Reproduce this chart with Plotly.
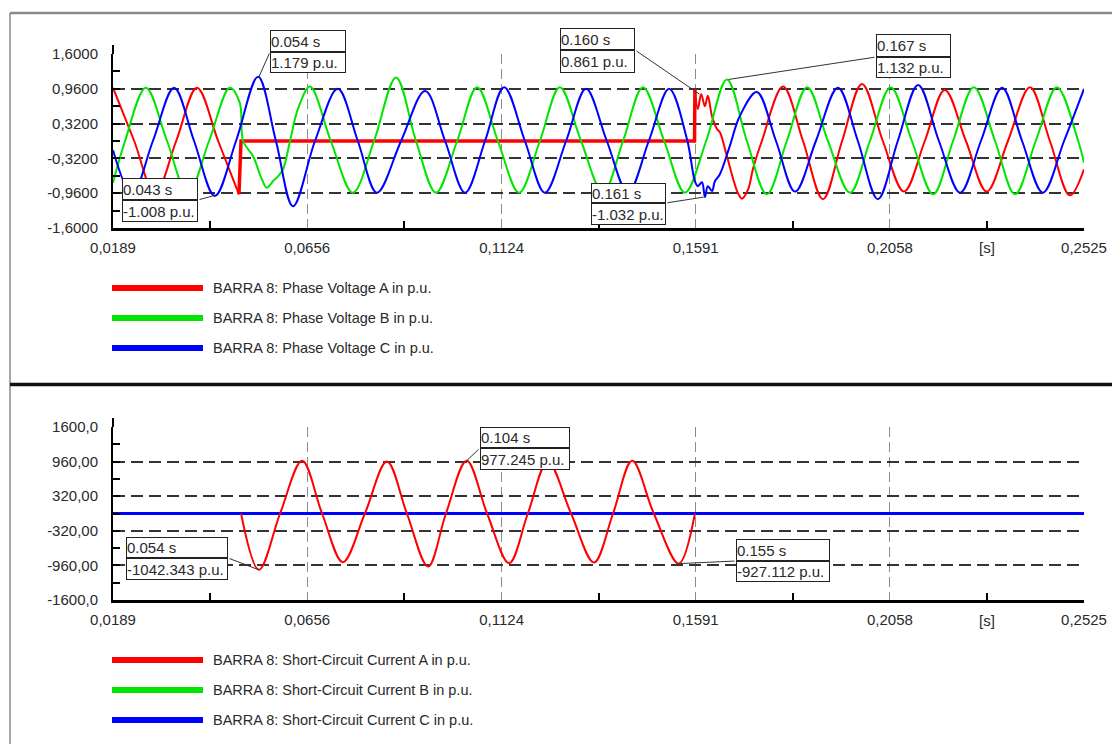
import plotly.graph_objects as go

# ---------------- data ----------------
T0, T1 = 0.0189, 0.2525
x_tickvals = [0.0189, 0.0656, 0.1124, 0.1591, 0.2058, 0.2525]
x_ticktext = ["0,0189", "0,0656", "0,1124", "0,1591", "0,2058", "0,2525"]
x_minor = [0.04225, 0.089, 0.13575, 0.1825, 0.22915]
x_unit_pos = 0.22915
x_unit_text = "[s]"

v_range = [-1.6, 1.6]
v_tickvals = [-1.6, -0.96, -0.32, 0.32, 0.96, 1.6]
v_ticktext = ["-1,6000", "-0,9600", "-0,3200", "0,3200", "0,9600", "1,6000"]
v_minor = [-1.28, -0.64, 0.0, 0.64, 1.28]

i_range = [-1600, 1600]
i_tickvals = [-1600, -960, -320, 320, 960, 1600]
i_ticktext = ["-1600,0", "-960,00", "-320,00", "320,00", "960,00", "1600,0"]
i_minor = [-1280, -640, 0, 640, 1280]

# Phase voltage A (before fault, during fault, after clearing)
va_pre_t = [0.0189, 0.0240, 0.0290, 0.0341, 0.0391, 0.0442, 0.0492]
va_pre_v = [0.98, 0.0, -0.97, 0.0, 0.98, 0.0, -0.98]
va_fault_t = [0.0492, 0.0497, 0.1588, 0.1589]
va_fault_v = [-0.98, 0.0, 0.0, 0.96]
va_post_t = [0.1589, 0.1596, 0.1604, 0.1613, 0.1620, 0.1630, 0.1642, 0.1649, 0.1666, 0.1681,
             0.1692, 0.1702, 0.1717, 0.1729, 0.1750, 0.1801, 0.1849, 0.1897, 0.1943, 0.1991,
             0.2041, 0.2092, 0.2142, 0.2190, 0.2241, 0.2291, 0.2342, 0.2395, 0.2443, 0.2491, 0.2525]
va_post_v = [0.96, 0.59, 0.86, 0.64, 0.83, 0.46, 0.22, 0.16, -0.28, -0.70,
             -0.95, -1.06, -0.89, -0.50, 0.0, 1.0, 0.0, -1.07, 0.0, 1.05,
             0.0, -0.93, 0.0, 0.94, 0.0, -0.93, 0.0, 0.99, 0.0, -1.0, -0.52]

# Phase voltage B
vb_t = [0.0189, 0.0218, 0.0268, 0.0319, 0.0369, 0.0420, 0.0470, 0.0494, 0.0502, 0.0526,
        0.0547, 0.0559, 0.0574, 0.0586, 0.0598, 0.0615, 0.0634, 0.0663, 0.0713, 0.0766,
        0.0817, 0.0870, 0.0918, 0.0966, 0.1017, 0.1065, 0.1115, 0.1166, 0.1216, 0.1264,
        0.1315, 0.1368, 0.1416, 0.1464, 0.1515, 0.1565, 0.1616, 0.1666, 0.1714, 0.1762,
        0.1810, 0.1859, 0.1909, 0.1962, 0.2010, 0.2060, 0.2111, 0.2162, 0.2210, 0.2260,
        0.2311, 0.2359, 0.2409, 0.2460, 0.2511, 0.2525]
vb_v = [-0.77, 0.0, 0.98, 0.0, -0.97, 0.0, 0.98, 0.70, 0.0, -0.28,
        -0.70, -0.86, -0.74, -0.65, -0.52, 0.0, 0.59, 1.0, 0.0, -0.95,
        0.0, 1.17, 0.0, -0.95, 0.0, 0.99, 0.0, -0.95, 0.0, 0.99,
        0.0, -0.95, 0.0, 0.99, 0.0, -0.95, 0.0, 1.13, 0.0, -0.98,
        0.0, 0.99, 0.0, -0.95, 0.0, 0.99, 0.0, -0.98, 0.0, 0.99,
        0.0, -0.98, 0.0, 0.99, 0.0, -0.40]

# Phase voltage C
vc_t = [0.0189, 0.0235, 0.0285, 0.0336, 0.0384, 0.0434, 0.0485, 0.0538, 0.0581, 0.0622,
        0.0675, 0.0730, 0.0778, 0.0824, 0.0882, 0.0940, 0.0988, 0.1036, 0.1084, 0.1130,
        0.1180, 0.1228, 0.1279, 0.1327, 0.1377, 0.1428, 0.1478, 0.1527, 0.1570, 0.1589,
        0.1596, 0.1606, 0.1613, 0.1620, 0.1630, 0.1637, 0.1649, 0.1673, 0.1697, 0.1738,
        0.1784, 0.1830, 0.1880, 0.1933, 0.1981, 0.2029, 0.2077, 0.2126, 0.2176, 0.2227,
        0.2277, 0.2328, 0.2376, 0.2426, 0.2477, 0.2525]
vc_v = [-0.17, -0.97, 0.0, 0.98, 0.0, -1.01, 0.0, 1.18, 0.0, -1.2,
        0.0, 0.96, 0.0, -0.95, 0.0, 0.92, 0.0, -0.95, 0.0, 0.99,
        0.0, -0.95, 0.0, 0.96, 0.0, -0.95, 0.0, 0.96, 0.03, -0.74,
        -0.83, -0.76, -1.03, -0.83, -0.92, -0.74, -0.61, -0.09, 0.46, 0.90,
        0.0, -0.93, 0.0, 0.98, 0.0, -1.07, 0.0, 1.03, 0.0, -0.95,
        0.0, 0.98, 0.0, -0.95, 0.0, 0.96]

# Short-circuit currents
ia_t = [0.0497, 0.0540, 0.0591, 0.0644, 0.0692, 0.0742, 0.0795, 0.0848, 0.0896, 0.0947,
        0.0990, 0.1040, 0.1089, 0.1142, 0.1187, 0.1235, 0.1291, 0.1346, 0.1392, 0.1438,
        0.1490, 0.1550, 0.1589]
ia_v = [0, -1042, 0, 975, 0, -900, 0, 961, 0, -980,
        0, 977, 0, -918, 0, 955, 0, -905, 0, 974,
        0, -927, 0]
ib_t = [0.0189, 0.2525]
ib_v = [0, 0]
ic_t = [0.0189, 0.2525]
ic_v = [0, 0]

volt_legend = ["BARRA 8: Phase Voltage A in p.u.",
               "BARRA 8: Phase Voltage B in p.u.",
               "BARRA 8: Phase Voltage C in p.u."]
curr_legend = ["BARRA 8: Short-Circuit Current A in p.u.",
               "BARRA 8: Short-Circuit Current B in p.u.",
               "BARRA 8: Short-Circuit Current C in p.u."]

# callouts: (time, value, panel, time label, value label)
callout_t = [0.054, 0.043, 0.160, 0.161, 0.167, 0.054, 0.104, 0.155]
callout_v = [1.179, -1.008, 0.861, -1.032, 1.132, -1042.343, 977.245, -927.112]
callout_panel = ["v", "v", "v", "v", "v", "i", "i", "i"]
callout_tlabel = ["0.054 s", "0.043 s", "0.160 s", "0.161 s", "0.167 s", "0.054 s", "0.104 s", "0.155 s"]
callout_vlabel = ["1.179 p.u.", "-1.008 p.u.", "0.861 p.u.", "-1.032 p.u.", "1.132 p.u.",
                  "-1042.343 p.u.", "977.245 p.u.", "-927.112 p.u."]

# ---------------- layout geometry (pixels) ----------------
W, H = 1112, 744
def px(x):
    return x / W
def py(y):
    return 1 - y / H

PLOT_X0, PLOT_X1 = 113, 1084
TOP_Y0, TOP_Y1 = 54, 228
BOT_Y0, BOT_Y1 = 427, 600

RED, GREEN, BLUE = "#ff0000", "#00e600", "#0000ff"
FONT = "Liberation Sans, Arial, sans-serif"
TXT = "#2a2a2a"
TICK_SIZE = 15
LEG_SIZE = 14.5
BOX_SIZE = 15

fig = go.Figure()

def line(t, v, color, width, ax, shape="spline"):
    fig.add_trace(go.Scatter(x=t, y=v, mode="lines", xaxis=ax[0], yaxis=ax[1],
                             line=dict(color=color, width=width, shape=shape, smoothing=1.0),
                             showlegend=False, hoverinfo="skip"))

# voltages
line(va_pre_t, va_pre_v, RED, 2, ("x", "y"))
line(va_fault_t, va_fault_v, RED, 3.5, ("x", "y"), shape="linear")
line(va_post_t, va_post_v, RED, 2, ("x", "y"))
line(vb_t, vb_v, GREEN, 2, ("x", "y"))
line(vc_t, vc_v, BLUE, 2, ("x", "y"))
# currents
line(ib_t, ib_v, GREEN, 3, ("x2", "y2"), shape="linear")
line(ic_t, ic_v, BLUE, 3, ("x2", "y2"), shape="linear")
line(ia_t, ia_v, RED, 2, ("x2", "y2"))

xdom = [px(PLOT_X0), px(PLOT_X1)]

def xaxis(anchor):
    return dict(domain=xdom, range=[T0, T1], anchor=anchor, tickmode="array",
                tickvals=x_tickvals, ticktext=x_ticktext, ticks="", showgrid=True,
                gridcolor="#8c8c8c", gridwidth=1.2, griddash="10px,5px",
                showline=True, linecolor="black", linewidth=2.5, zeroline=False,
                automargin=False, ticklabelstandoff=4,
                tickfont=dict(family=FONT, size=TICK_SIZE, color=TXT),
                minor=dict(tickmode="array", tickvals=x_minor, ticks="inside", ticklen=7,
                           tickcolor="black", tickwidth=1.5, showgrid=False),
                fixedrange=True)

def yaxis(domain, rng, tv, tt, minor, anchor):
    return dict(domain=domain, range=rng, anchor=anchor, tickmode="array",
                tickvals=tv, ticktext=tt, ticks="inside", ticklen=7, tickcolor="black",
                tickwidth=1.5, showgrid=True, gridcolor="#333333", gridwidth=1.5,
                griddash="12px,6px", showline=True, linecolor="black", linewidth=2,
                zeroline=False, automargin=False, ticklabelstandoff=10,
                tickfont=dict(family=FONT, size=TICK_SIZE, color=TXT),
                minor=dict(tickmode="array", tickvals=minor, ticks="inside", ticklen=7,
                           tickcolor="black", tickwidth=1.5, showgrid=False),
                fixedrange=True)

fig.update_layout(
    width=W, height=H, autosize=False,
    margin=dict(l=0, r=0, t=0, b=0, pad=0, autoexpand=False),
    paper_bgcolor="white", plot_bgcolor="white",
    showlegend=False,
    font=dict(family=FONT, size=TICK_SIZE, color=TXT),
    xaxis=xaxis("y"),
    yaxis=yaxis([py(TOP_Y1), py(TOP_Y0)], v_range, v_tickvals, v_ticktext, v_minor, "x"),
    xaxis2=xaxis("y2"),
    yaxis2=yaxis([py(BOT_Y1), py(BOT_Y0)], i_range, i_tickvals, i_ticktext, i_minor, "x2"),
)

shapes = []
annotations = []

# outer frame
shapes.append(dict(type="line", xref="paper", yref="paper", x0=px(10), x1=1, y0=py(13), y1=py(13),
                   line=dict(color="#8a8a8a", width=2.5)))
shapes.append(dict(type="line", xref="paper", yref="paper", x0=px(10), x1=px(10), y0=py(13), y1=0,
                   line=dict(color="#8a8a8a", width=1.5)))
shapes.append(dict(type="line", xref="paper", yref="paper", x0=px(10), x1=1, y0=py(384.5), y1=py(384.5),
                   line=dict(color="#111111", width=3.5)))
# axis-line extensions above the top of each y range
for ytop in (TOP_Y0, BOT_Y0):
    shapes.append(dict(type="line", xref="paper", yref="paper", x0=px(PLOT_X0), x1=px(PLOT_X0),
                       y0=py(ytop), y1=py(ytop - 9), line=dict(color="black", width=2)))

# unit label "[s]"
for ref, ybase in (("x", TOP_Y1), ("x2", BOT_Y1)):
    annotations.append(dict(x=x_unit_pos, y=py(ybase + 20), xref=ref, yref="paper", text=x_unit_text,
                            showarrow=False, xanchor="center", yanchor="middle",
                            font=dict(family=FONT, size=TICK_SIZE, color=TXT)))

# legends
def legend(labels, colors, ys):
    for lab, col, yy in zip(labels, colors, ys):
        shapes.append(dict(type="line", xref="paper", yref="paper", x0=px(112), x1=px(203),
                           y0=py(yy), y1=py(yy), line=dict(color=col, width=6)))
        annotations.append(dict(x=px(211), y=py(yy), xref="paper", yref="paper", text=lab,
                                showarrow=False, xanchor="left", yanchor="middle",
                                font=dict(family=FONT, size=LEG_SIZE, color=TXT)))

legend(volt_legend, [RED, GREEN, BLUE], [288, 318, 348])
legend(curr_legend, [RED, GREEN, BLUE], [660, 690, 720])

# callout boxes: x0, x1, y_top, y_mid, y_bottom, leader corner (x, y)
boxes = [
    (270, 346, 30, 52, 73, 270, 52),
    (122, 198, 178, 200, 222, 198, 200),
    (560, 635, 28, 50, 73, 635, 50),
    (591, 666, 183, 203, 225, 666, 203),
    (876, 951, 34, 57, 78, 876, 57),
    (126, 228, 537, 558, 580, 228, 558),
    (480, 570, 427, 448, 470, 480, 448),
    (736, 830, 539, 561, 582, 736, 561),
]

def to_px(t, v, panel):
    xpix = PLOT_X0 + (t - T0) / (T1 - T0) * (PLOT_X1 - PLOT_X0)
    if panel == "v":
        lo, hi, y0, y1 = v_range[0], v_range[1], TOP_Y0, TOP_Y1
    else:
        lo, hi, y0, y1 = i_range[0], i_range[1], BOT_Y0, BOT_Y1
    ypix = y1 - (v - lo) / (hi - lo) * (y1 - y0)
    return xpix, ypix

for (t, v, pan, tl, vl, b) in zip(callout_t, callout_v, callout_panel, callout_tlabel, callout_vlabel, boxes):
    x0, x1, yt, ym, yb, cx, cy = b
    xr, yr = ("x", "y") if pan == "v" else ("x2", "y2")
    ppx, ppy = to_px(t, v, pan)
    # leader line
    annotations.append(dict(x=t, y=v, xref=xr, yref=yr, text="", showarrow=True,
                            arrowhead=0, arrowwidth=1, arrowcolor="#333333",
                            ax=cx - ppx, ay=cy - ppy, standoff=0, startstandoff=0))
    for txt, ya, yb2 in ((tl, yt, ym), (vl, ym, yb)):
        annotations.append(dict(x=px(x0), y=py(ya), xref="paper", yref="paper", text=txt,
                                showarrow=False, xanchor="left", yanchor="top",
                                width=x1 - x0 - 2, height=yb2 - ya - 2, align="left",
                                valign="middle", bgcolor="white", bordercolor="#222222",
                                borderwidth=1, borderpad=0,
                                font=dict(family=FONT, size=BOX_SIZE, color=TXT)))

fig.update_layout(shapes=shapes, annotations=annotations)
fig.write_html("out.html")
